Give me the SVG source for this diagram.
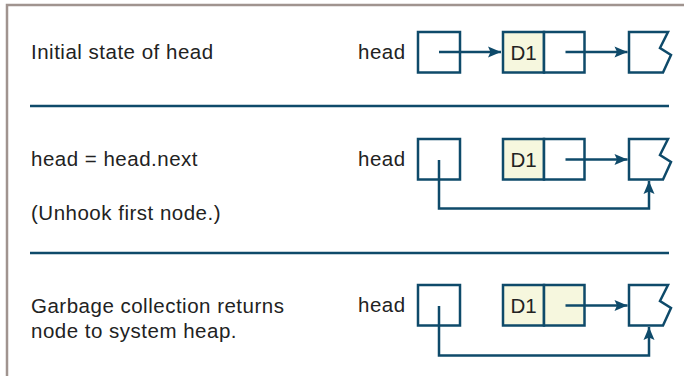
<svg xmlns="http://www.w3.org/2000/svg" width="684" height="376" viewBox="0 0 684 376">
  <style>
    .lbl { font-family: "Liberation Sans", Arial, Helvetica, sans-serif; font-size: 20.5px; letter-spacing: 0.5px; fill: #222222; }
    .val { font-family: "Liberation Sans", Arial, Helvetica, sans-serif; font-size: 20.5px; fill: #222222; }
    .box { fill: #ffffff; stroke: #0e4a6a; stroke-width: 2.5; }
    .data { fill: #f6f7de; stroke: #0e4a6a; stroke-width: 2.5; }
    .link { fill: none; stroke: #0e4a6a; stroke-width: 2.5; marker-end: url(#arrow); }
    .rule { stroke: #0e4a6a; stroke-width: 2.5; }
    .frame { fill: none; stroke: #a0948f; stroke-width: 2.5; }
  </style>
  <defs>
    <marker id="arrow" markerUnits="userSpaceOnUse" markerWidth="14" markerHeight="12" refX="13" refY="5.5" orient="auto" overflow="visible">
      <path d="M0,0 L13,5.5 L0,11 L2.5,5.5 Z" fill="#0e4a6a"/>
    </marker>
    <!-- tail of the list: box with torn right edge -->
    <path id="tail" class="box" d="M629,0 H668 L660,16 L671,23 L663,40.5 H629 Z"/>
  </defs>

  <rect width="684" height="376" fill="#ffffff"/>
  <!-- outer frame: top and left edges -->
  <path class="frame" d="M7,376 V5 H684"/>

  <!-- section separators -->
  <line class="rule" x1="30" y1="106" x2="669" y2="106"/>
  <line class="rule" x1="30" y1="253" x2="669" y2="253"/>

  <!-- captions -->
  <text class="lbl" x="31" y="59">Initial state of head</text>
  <text class="lbl" x="31" y="166">head = head.next</text>
  <text class="lbl" x="31" y="220">(Unhook first node.)</text>
  <text class="lbl" x="31" y="313">Garbage collection returns</text>
  <text class="lbl" x="31" y="338">node to system heap.</text>

  <!-- step 1 -->
  <g id="head1">
    <text class="lbl" x="358" y="59">head</text>
    <rect class="box" x="418" y="32" width="42" height="40.5"/>
  </g>
  <g id="d1-1">
    <rect class="data" x="503" y="32" width="41" height="40.5"/>
    <rect class="box" x="544" y="32" width="40.5" height="40.5"/>
    <text class="val" x="523.5" y="59.5" text-anchor="middle">D1</text>
  </g>
  <g id="tail1"><use href="#tail" y="32"/></g>

  <!-- step 2 -->
  <g id="head2">
    <text class="lbl" x="358" y="166">head</text>
    <rect class="box" x="418" y="139" width="42" height="40.5"/>
  </g>
  <g id="d1-2">
    <rect class="data" x="503" y="139" width="41" height="40.5"/>
    <rect class="box" x="544" y="139" width="40.5" height="40.5"/>
    <text class="val" x="523.5" y="166.5" text-anchor="middle">D1</text>
  </g>
  <g id="tail2"><use href="#tail" y="139"/></g>

  <!-- step 3 -->
  <g id="head3">
    <text class="lbl" x="358" y="312">head</text>
    <rect class="box" x="418" y="285" width="42" height="40.5"/>
  </g>
  <g id="d1-3">
    <rect class="data" x="503" y="285" width="41" height="40.5"/>
    <rect class="data" x="544" y="285" width="40.5" height="40.5"/>
    <text class="val" x="523.5" y="312.5" text-anchor="middle">D1</text>
  </g>
  <g id="tail3"><use href="#tail" y="285"/></g>

  <!-- links -->
  <g id="connectors">
    <line class="link" x1="439" y1="52" x2="501" y2="52"/>
    <line class="link" x1="565.5" y1="52" x2="627.5" y2="52"/>
    <line class="link" x1="565.5" y1="159.5" x2="627.5" y2="159.5"/>
    <path class="link" d="M439,160 V208.5 H649 V181"/>
    <line class="link" x1="565.5" y1="305.5" x2="627.5" y2="305.5"/>
    <path class="link" d="M439,306 V355.5 H649 V327"/>
  </g>
</svg>
